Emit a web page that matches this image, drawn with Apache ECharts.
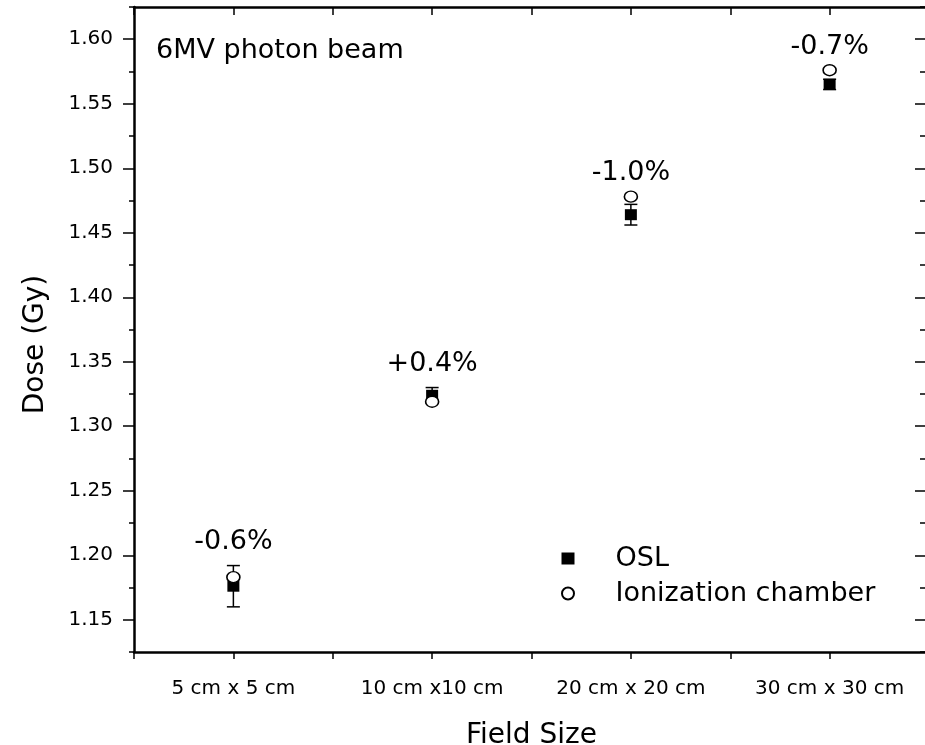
<!DOCTYPE html>
<html>
<head>
<meta charset="utf-8">
<script src="https://cdn.jsdelivr.net/npm/echarts@6/dist/echarts.min.js"></script>
<style>
    html, body {margin: 0; padding: 0; background: #fff;}
    #doseChart-container {width: 925px; height: 745px;}
</style>
</head>
<body>
<div id="doseChart-container"></div>
<script>
var NAME_OSL = 'OSL';
var NAME_IC = 'Ionization chamber';
var FONT = 'DejaVu Sans';

// field sizes, placed at x = 1..4
var categories = ['5 cm x 5 cm', '10 cm x10 cm', '20 cm x 20 cm', '30 cm x 30 cm'];
var fieldPos = [1, 2, 3, 4];
var oslDose = [1.176, 1.324, 1.464, 1.565];
var oslErr = [0.016, 0.006, 0.008, 0.004];
var icDose = [1.183, 1.319, 1.478, 1.576];
var diffLabels = ['-0.6%', '+0.4%', '-1.0%', '-0.7%'];
var yMajorTicks = [1.15, 1.20, 1.25, 1.30, 1.35, 1.40, 1.45, 1.50, 1.55, 1.60];

var myChart = null;

function renderErrorBar(params, api) {
    var x = api.value(0);
    var top = api.coord([x, api.value(2)]);
    var bottom = api.coord([x, api.value(1)]);
    var half = 6.5;
    var style = {stroke: '#000', lineWidth: 1.5};
    return {
        type: 'group',
        children: [
            {type: 'line', shape: {x1: top[0], y1: top[1], x2: bottom[0], y2: bottom[1]}, style: style},
            {type: 'line', shape: {x1: top[0] - half, y1: top[1], x2: top[0] + half, y2: top[1]}, style: style},
            {type: 'line', shape: {x1: bottom[0] - half, y1: bottom[1], x2: bottom[0] + half, y2: bottom[1]}, style: style}
        ]
    };
}

function initDoseChart() {
    myChart = echarts.init(document.getElementById('doseChart-container'));

    var data_osl = [];
    var data_ic = [];
    var data_err = [];
    var data_note = [];
    fieldPos.forEach(function (x, i) {
        data_osl.push([x, oslDose[i]]);
        data_ic.push([x, icDose[i]]);
        data_err.push([x, oslDose[i] - oslErr[i], oslDose[i] + oslErr[i]]);
        data_note.push([x, Math.max(icDose[i], oslDose[i] + oslErr[i])]);
    });

    var yRange = {min: 1.125, max: 1.625};
    var axisLine = {show: true, lineStyle: {color: '#000', width: 2.5}};

    var option = {
        backgroundColor: '#fff',
        animation: false,
        textStyle: {fontFamily: FONT, color: '#000'},
        title: {
            text: '6MV photon beam',
            left: 156,
            top: 37,
            padding: 0,
            textStyle: {fontFamily: FONT, fontSize: 27, fontWeight: 'normal', color: '#000'}
        },
        legend: {
            data: [{name: NAME_OSL, icon: 'rect'}, {name: NAME_IC, icon: 'circle'}],
            orient: 'vertical',
            left: 556,
            top: 540,
            itemWidth: 13,
            itemHeight: 12,
            itemGap: 8,
            selectedMode: false,
            textStyle: {fontFamily: FONT, fontSize: 27, color: '#000', padding: [0, 0, 0, 36]}
        },
        // right edge sits just past the canvas, as in the original
        grid: {left: 134, width: 795, top: 7, bottom: 93, containLabel: false, outerBoundsMode: 'none'},
        xAxis: [
            {
                type: 'value',
                position: 'bottom',
                min: 0.5,
                max: 4.5,
                interval: 0.5,
                name: 'Field Size',
                nameLocation: 'middle',
                nameGap: 70,
                nameTextStyle: {fontFamily: FONT, fontSize: 28, color: '#000'},
                axisLine: axisLine,
                axisTick: {show: true, inside: false, length: 7, lineStyle: {color: '#000', width: 1.5}},
                axisLabel: {
                    margin: 27,
                    fontFamily: FONT,
                    fontSize: 20,
                    color: '#000',
                    formatter: function (v) {
                        var i = fieldPos.indexOf(v);
                        return i >= 0 ? categories[i] : '';
                    }
                },
                splitLine: {show: false}
            },
            {
                type: 'value',
                position: 'top',
                min: 0.5,
                max: 4.5,
                interval: 0.5,
                axisLine: axisLine,
                axisTick: {show: true, inside: true, length: 8, lineStyle: {color: '#000', width: 1.5}},
                axisLabel: {show: false},
                splitLine: {show: false}
            }
        ],
        yAxis: [
            {
                type: 'value',
                position: 'left',
                min: yRange.min,
                max: yRange.max,
                interval: 0.025,
                name: 'Dose (Gy)',
                nameLocation: 'middle',
                nameGap: 84,
                nameTextStyle: {fontFamily: FONT, fontSize: 28, color: '#000', padding: [0, 30, 0, 0]},
                axisLine: axisLine,
                axisTick: {show: true, inside: false, length: 5, lineStyle: {color: '#000', width: 1.5}},
                axisLabel: {
                    margin: 21,
                    fontFamily: FONT,
                    fontSize: 20,
                    color: '#000',
                    formatter: function (v) {
                        return Math.round(v * 1000) % 50 === 0 ? v.toFixed(2) : '';
                    }
                },
                splitLine: {show: false}
            },
            {
                type: 'value',
                position: 'left',
                min: yRange.min,
                max: yRange.max,
                axisLine: {show: false},
                axisTick: {show: true, inside: false, length: 11, customValues: yMajorTicks, lineStyle: {color: '#000', width: 1.5}},
                axisLabel: {show: false},
                splitLine: {show: false}
            },
            {
                type: 'value',
                position: 'right',
                min: yRange.min,
                max: yRange.max,
                interval: 0.025,
                axisLine: axisLine,
                axisTick: {show: true, inside: true, length: 9, lineStyle: {color: '#000', width: 1.5}},
                axisLabel: {show: false},
                splitLine: {show: false}
            },
            {
                type: 'value',
                position: 'right',
                min: yRange.min,
                max: yRange.max,
                axisLine: {show: false},
                axisTick: {show: true, inside: true, length: 14, customValues: yMajorTicks, lineStyle: {color: '#000', width: 1.5}},
                axisLabel: {show: false},
                splitLine: {show: false}
            }
        ],
        series: [
            {
                name: 'err',
                type: 'custom',
                renderItem: renderErrorBar,
                encode: {x: 0, y: [1, 2]},
                data: data_err,
                silent: true,
                z: 2
            },
            {
                name: NAME_OSL,
                type: 'scatter',
                symbol: 'rect',
                symbolSize: [12, 11],
                itemStyle: {color: '#000', opacity: 1},
                data: data_osl,
                z: 3
            },
            {
                name: NAME_IC,
                type: 'scatter',
                symbol: 'circle',
                symbolSize: [13, 11],
                itemStyle: {color: '#fff', borderColor: '#000', borderWidth: 1.5, opacity: 1},
                data: data_ic,
                z: 4
            },
            {
                name: 'diff',
                type: 'scatter',
                symbolSize: 0,
                silent: true,
                itemStyle: {opacity: 1},
                data: data_note,
                label: {
                    show: true,
                    position: 'top',
                    distance: 10,
                    fontFamily: FONT,
                    fontSize: 27,
                    color: '#000',
                    formatter: function (p) {
                        return diffLabels[p.dataIndex];
                    }
                },
                z: 5
            }
        ]
    };
    myChart.setOption(option);
}

initDoseChart();
</script>
</body>
</html>
